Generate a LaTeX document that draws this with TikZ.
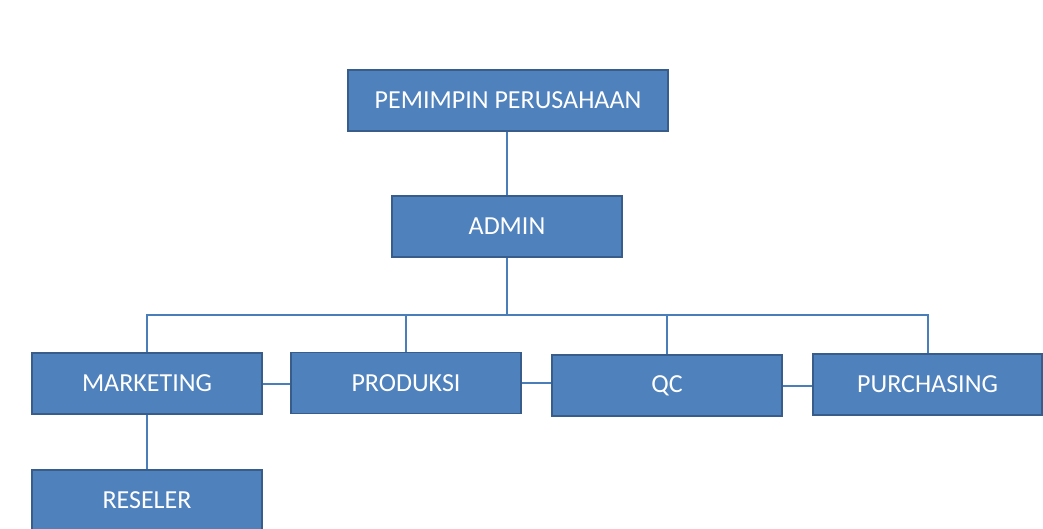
\documentclass[tikz,border=0pt]{standalone}
\usepackage{fontspec}
\setmainfont{Carlito}
\definecolor{boxfill}{HTML}{4F81BD}
\definecolor{boxline}{HTML}{385D8A}
\definecolor{conn}{HTML}{4A7EBB}
\begin{document}
\begin{tikzpicture}[x=1pt,y=-1pt,
  orgbox/.style={draw=boxline,line width=1.6pt,fill=boxfill,text=white,
    minimum width=230pt,minimum height=61pt,inner sep=0pt,
    font=\fontsize{26}{30}\selectfont},
  link/.style={draw=conn,line width=2pt}]
\useasboundingbox (0,0) rectangle (1043,528);
\clip (0,0) rectangle (1043,528);
\fill[white] (0,0) rectangle (1043,528);
\node[orgbox,minimum width=320pt] (pem) at (508,100.5) {PEMIMPIN PERUSAHAAN};
\node[orgbox] (adm) at (507,226.5) {ADMIN};
\node[orgbox] (mkt) at (147,383.5) {MARKETING};
\node[orgbox] (prd) at (406,383) {PRODUKSI};
\node[orgbox] (qc) at (667,385.5) {QC};
\node[orgbox,minimum width=229pt] (pur) at (927.5,384.5) {PURCHASING};
\node[orgbox] (res) at (147,500.5) {RESELER};
\coordinate (bus) at (507,315);
\draw[link] (adm.north |- pem.south) -- (adm.north);
\draw[link] (adm.south) -- (bus);
\draw[link] (bus) -| (mkt.north);
\draw[link] (bus) -| (pur.north);
\draw[link] (prd.north) -- (prd.north |- bus);
\draw[link] (qc.north) -- (qc.north |- bus);
\draw[link] (mkt.east) -- (mkt.east -| prd.west);
\draw[link] (prd.east) -- (prd.east -| qc.west);
\draw[link] (qc.east) -- (qc.east -| pur.west);
\draw[link] (mkt.south) -- (res.north);
\end{tikzpicture}
\end{document}
